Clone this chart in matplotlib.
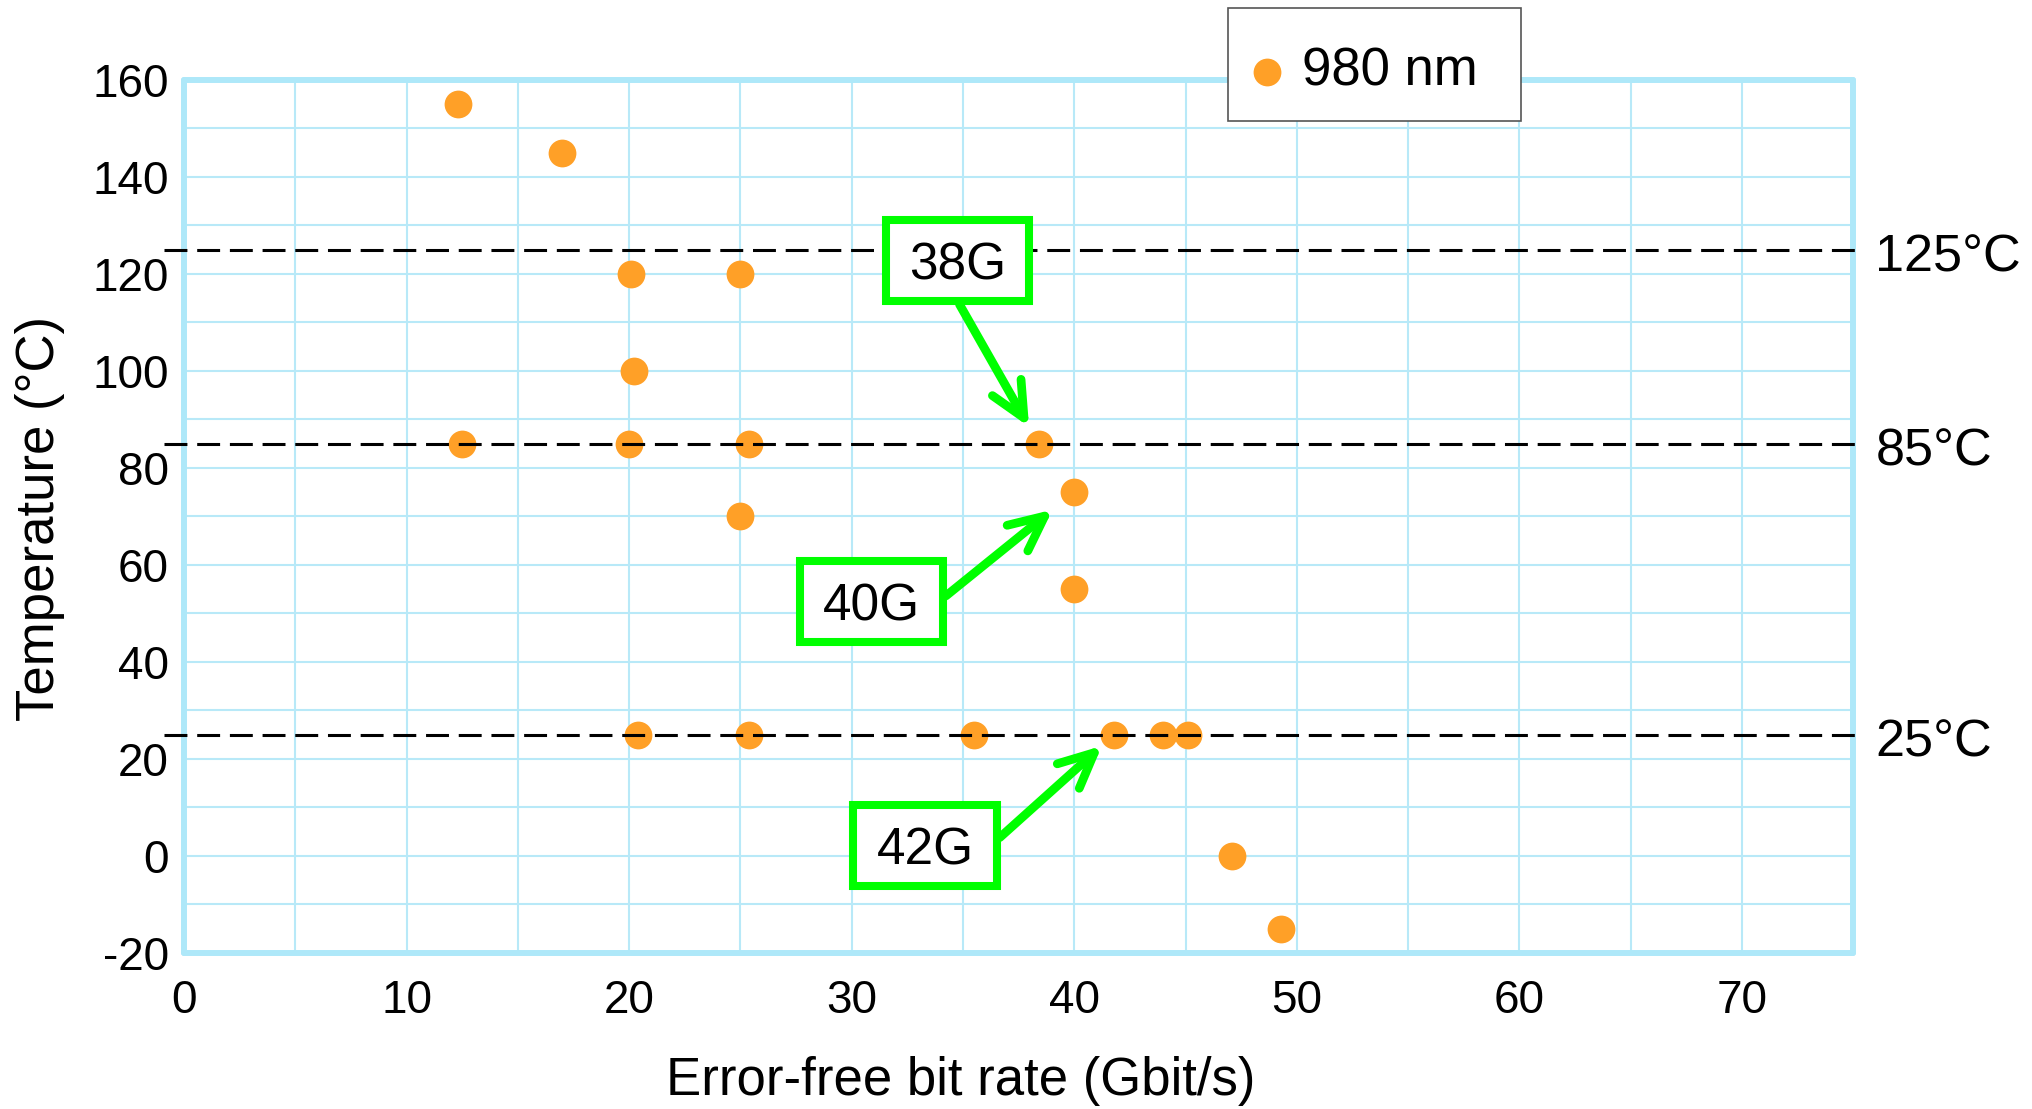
import matplotlib
matplotlib.use('Agg')
import matplotlib.pyplot as plt
from matplotlib.path import Path
from matplotlib.ticker import MultipleLocator

plt.rcParams['font.family'] = ['Liberation Sans', 'DejaVu Sans']
plt.rcParams['axes.unicode_minus'] = False

# Mesures 980 nm : débit sans erreur vs température
bit_rate = [12.3, 17.0, 20.1, 25.0, 20.2, 12.5, 20.0, 25.4, 38.4, 40.0,
            25.0, 40.0, 20.4, 25.4, 35.5, 41.8, 44.0, 45.1, 47.1, 49.3]
temperature = [155, 145, 120, 120, 100, 85, 85, 85, 85, 75,
               70, 55, 25, 25, 25, 25, 25, 25, 0, -15]

ref_temps = [125, 85, 25]
ref_labels = ['125°C', '85°C', '25°C']

note_labels = ['38G', '40G', '42G']
note_targets = [8, 9, 15]                 # indices des points visés
note_x = [34.74, 30.88, 33.3]
note_y = [121.6, 51.3, 1.0]

x_ticks = list(range(0, 80, 10))
y_ticks = list(range(-20, 180, 20))

ORANGE = '#ffa027'
GREEN = '#00ff00'
BLUE = '#aee8f9'
GRID = '#b8e9f8'


def label_box(x0, y0, width, height, mutation_size):
    # cadre des étiquettes : plus de marge en haut qu'en bas
    px = 0.45 * mutation_size
    top, bottom = 0.415 * mutation_size, 0.21 * mutation_size
    x0, x1 = x0 - px, x0 + width + px
    y0, y1 = y0 - bottom, y0 + height + top
    return Path([(x0, y0), (x1, y0), (x1, y1), (x0, y1), (x0, y0)], closed=True)


def legend_box(x0, y0, width, height, mutation_size):
    # cadre de la légende : bas remonté
    y0 = y0 + 0.26 * mutation_size
    x1, y1 = x0 + width, y0 + height - 0.26 * mutation_size
    return Path([(x0, y0), (x1, y0), (x1, y1), (x0, y1), (x0, y0)], closed=True)


fig = plt.figure(figsize=(20.32, 11.09), dpi=100)
ax = fig.add_axes([0.0906, 0.1407, 0.8214, 0.7872])

ax.scatter(bit_rate, temperature, s=400, color=ORANGE, zorder=3,
           linewidths=0, label='980 nm')

# Lignes de référence en pointillés
for t, lab in zip(ref_temps, ref_labels):
    ax.plot([-0.9, 75.4], [t, t], color='black', lw=2.2,
            ls=(0, (7.5, 3.2)), zorder=4, clip_on=False)
    ax.text(76.0, t - 1.8, lab, fontsize=37.5, va='center', ha='left')

# Annotations vertes
relpos = [(0.3, 0.5), (1.0, 0.3), (1.0, 0.3)]
shrink = [14, 20, 12]
for lab, i, tx, ty, rp, sb in zip(note_labels, note_targets, note_x, note_y,
                                  relpos, shrink):
    ax.annotate(lab, xy=(bit_rate[i], temperature[i]), xytext=(tx, ty),
                fontsize=37, ha='center', va='center', zorder=6,
                bbox=dict(boxstyle=label_box, fc='white', ec=GREEN, lw=5.8),
                arrowprops=dict(arrowstyle='->,head_length=0.68,head_width=0.32',
                                color=GREEN, lw=6.3, shrinkA=0, shrinkB=sb,
                                relpos=rp, capstyle='round', joinstyle='round'))

ax.set_xlim(0, 75)
ax.set_ylim(-20, 160)
ax.set_xticks(x_ticks)
ax.set_yticks(y_ticks)
ax.xaxis.set_minor_locator(MultipleLocator(5))
ax.yaxis.set_minor_locator(MultipleLocator(10))
ax.grid(which='both', color=GRID, lw=1.5)
ax.set_axisbelow(True)
ax.tick_params(which='both', length=0, labelsize=33)
ax.tick_params(axis='x', pad=19)
ax.tick_params(axis='y', pad=11)

for sp in ax.spines.values():
    sp.set_color(BLUE)
    sp.set_linewidth(4.3)
    sp.set_capstyle('round')

ax.set_xlabel('Error-free bit rate (Gbit/s)', fontsize=38)
ax.set_ylabel('Temperature (°C)', fontsize=38)
ax.xaxis.set_label_coords(0.4655, -0.118)
ax.yaxis.set_label_coords(-0.0714, 0.498)

leg = ax.legend(loc='upper left', bbox_to_anchor=(1228 / 2032, 1 - 119 / 1109,
                                                  293 / 2032, 111 / 1109),
                bbox_transform=fig.transFigure, mode='expand',
                borderaxespad=0, borderpad=0.73, handlelength=0,
                handletextpad=0.67, fontsize=38, fancybox=False,
                framealpha=1, edgecolor='#555555')
leg.get_frame().set_linewidth(1.2)
leg.get_frame().set_boxstyle(legend_box)
leg.set_zorder(10)

fig.savefig('out.png', dpi=100)
